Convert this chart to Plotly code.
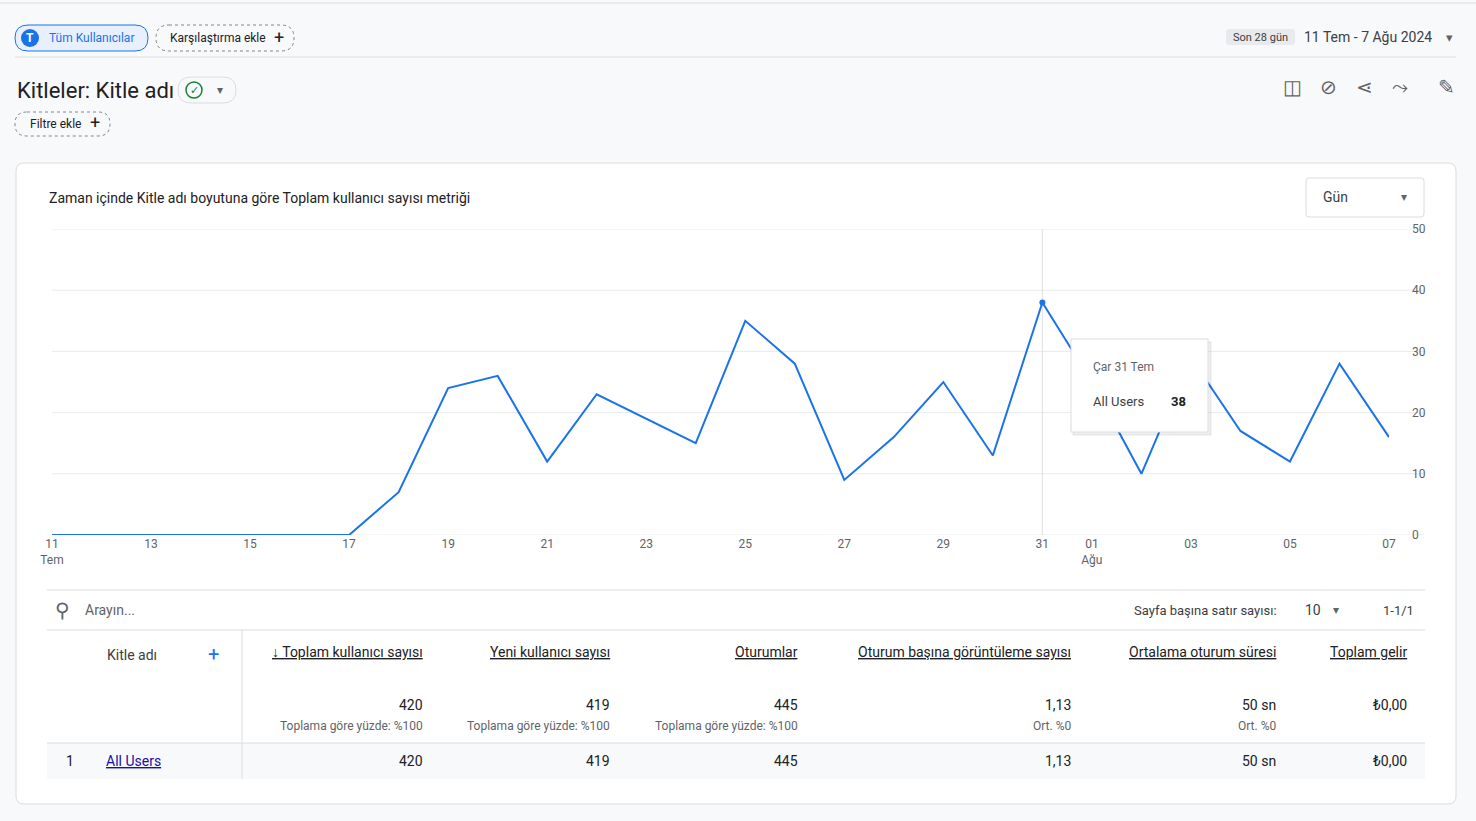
import plotly.graph_objects as go

W, H = 1476, 821
dates = ["2024-07-%02d" % d for d in range(11, 32)] + ["2024-08-%02d" % d for d in range(1, 8)]
users = [0, 0, 0, 0, 0, 0, 0, 7, 24, 26, 12, 23, 19, 15, 35, 28, 9, 16, 25, 13, 38,
         25, 10, 29, 17, 12, 28, 16]
xtick_vals = ["2024-07-11", "2024-07-13", "2024-07-15", "2024-07-17", "2024-07-19", "2024-07-21",
              "2024-07-23", "2024-07-25", "2024-07-27", "2024-07-29", "2024-07-31", "2024-08-01",
              "2024-08-03", "2024-08-05", "2024-08-07"]
xtick_text = ["11<br>Tem", "13", "15", "17", "19", "21", "23", "25", "27", "29", "31", "01<br>Ağu",
              "03", "05", "07"]
ytick_vals = [0, 10, 20, 30, 40, 50]
columns = ["Toplam kullanıcı sayısı", "Yeni kullanıcı sayısı", "Oturumlar",
           "Oturum başına görüntüleme sayısı", "Ortalama oturum süresi", "Toplam gelir"]
totals = ["420", "419", "445", "1,13", "50 sn", "₺0,00"]
subtotals = ["Toplama göre yüzde: %100", "Toplama göre yüzde: %100", "Toplama göre yüzde: %100",
             "Ort. %0", "Ort. %0", ""]
row_vals = ["420", "419", "445", "1,13", "50 sn", "₺0,00"]
col_right = [425, 612, 800, 1073, 1278, 1409]

def px(x): return x / W
def py(y): return 1 - y / H

fig = go.Figure()
fig.add_trace(go.Scatter(x=dates, y=users, mode="lines", line=dict(color="#1a73e8", width=2),
                         hoverinfo="skip"))
fig.add_trace(go.Scatter(x=[dates[20]], y=[users[20]], mode="markers",
                         marker=dict(color="#1a73e8", size=6), hoverinfo="skip"))

shapes, ann = [], []
def rect(x0, y0, x1, y1, line="#dadce0", fill="rgba(0,0,0,0)", dash="solid", w=1, r=0, layer="below"):
    if r:
        path = (f"M {px(x0+r)},{py(y0)} L {px(x1-r)},{py(y0)} Q {px(x1)},{py(y0)} {px(x1)},{py(y0+r)} "
                f"L {px(x1)},{py(y1-r)} Q {px(x1)},{py(y1)} {px(x1-r)},{py(y1)} L {px(x0+r)},{py(y1)} "
                f"Q {px(x0)},{py(y1)} {px(x0)},{py(y1-r)} L {px(x0)},{py(y0+r)} Q {px(x0)},{py(y0)} {px(x0+r)},{py(y0)} Z")
        shapes.append(dict(type="path", path=path, xref="paper", yref="paper",
                           line=dict(color=line, width=w, dash=dash), fillcolor=fill, layer=layer))
    else:
        shapes.append(dict(type="rect", x0=px(x0), x1=px(x1), y0=py(y0), y1=py(y1), xref="paper", yref="paper",
                           line=dict(color=line, width=w, dash=dash), fillcolor=fill, layer=layer))
def hline(y, x0, x1, c="#dadce0"):
    shapes.append(dict(type="line", x0=px(x0), x1=px(x1), y0=py(y), y1=py(y), xref="paper", yref="paper",
                       line=dict(color=c, width=1)))
def vline(x, y0, y1, c="#dadce0"):
    shapes.append(dict(type="line", x0=px(x), x1=px(x), y0=py(y0), y1=py(y1), xref="paper", yref="paper",
                       line=dict(color=c, width=1)))
def text(x, y, t, size=13, color="#202124", xa="left", weight=None, ul=False):
    if ul: t = "<u>" + t + "</u>"
    if weight: t = "<b>" + t + "</b>"
    ann.append(dict(x=px(x), y=py(y), xref="paper", yref="paper", text=t, showarrow=False,
                    xanchor=xa, yanchor="middle", font=dict(size=size, color=color)))

# background
rect(0, 0, W, H, line="rgba(0,0,0,0)", fill="#f8f9fa")
hline(3, 0, W); hline(57, 15, 1456)
# top chips
rect(15, 25, 148, 51, line="#1a73e8", fill="#e8f0fe", r=13)
shapes.append(dict(type="circle", x0=px(21), x1=px(39), y0=py(29), y1=py(47), xref="paper", yref="paper",
                   fillcolor="#1a73e8", line=dict(width=0)))
text(30, 38, "T", 12, "white", "center", weight=True)
text(47, 38, "Tüm Kullanıcılar", 12, "#1a73e8")
rect(156, 25, 294, 51, line="#80868b", dash="dot", r=13)
text(168, 38, "Karşılaştırma ekle", 12, "#202124")
text(279, 37, "+", 18, "#202124", "center")
rect(1226, 29, 1295, 45, line="rgba(0,0,0,0)", fill="#e8eaed", r=3)
text(1260, 37, "Son 28 gün", 11, "#3c4043", "center")
text(1302, 37, "11 Tem - 7 Ağu 2024", 14, "#3c4043")
text(1449, 37, "▾", 13, "#5f6368", "center")
# title
text(15, 90, "Kitleler: Kitle adı", 22, "#202124")
rect(178, 77, 236, 103, line="#dadce0", r=13)
shapes.append(dict(type="circle", x0=px(186), x1=px(202), y0=py(82), y1=py(98), xref="paper", yref="paper",
                   line=dict(color="#188038", width=1.5)))
text(194, 90, "✓", 11, "#188038", "center")
text(220, 90, "▾", 12, "#5f6368", "center")
rect(15, 112, 110, 136, line="#80868b", dash="dot", r=12)
text(28, 124, "Filtre ekle", 12, "#202124")
text(95, 123, "+", 18, "#202124", "center")
for x, ic in zip([1292, 1328, 1364, 1400, 1446], ["◫", "⊘", "⋖", "⤳", "✎"]):
    text(x, 87, ic, 20, "#5f6368", "center")
# card
rect(16, 163, 1456, 804, line="#dadce0", fill="white", r=8)
text(47, 198, "Zaman içinde Kitle adı boyutuna göre Toplam kullanıcı sayısı metriği", 14, "#202124")
rect(1306, 178, 1424, 217, line="#dadce0", fill="white", r=3)
text(1321, 197, "Gün", 14, "#3c4043")
text(1404, 197, "▾", 12, "#5f6368", "center")
# gridlines
for v in ytick_vals:
    shapes.append(dict(type="line", xref="paper", yref="y", x0=px(52), x1=px(1425), y0=v, y1=v,
                       line=dict(color="#e8eaed", width=1), layer="below"))
shapes.append(dict(type="line", xref="x", yref="paper", x0=dates[20], x1=dates[20], y0=py(229), y1=py(535),
                   line=dict(color="#e0e0e0", width=1), layer="below"))
# tooltip (drawn above the line)
rect(1073, 342, 1211, 435, line="rgba(0,0,0,0.08)", fill="rgba(0,0,0,0.06)", layer="above")
rect(1071, 339, 1208, 432, line="#dadce0", fill="white", layer="above")
text(1091, 367, "Çar 31 Tem", 12, "#5f6368")
text(1091, 402, "All Users", 13, "#3c4043")
text(1188, 402, "38", 13, "#202124", "right", weight=True)
# table
hline(590, 47, 1425); hline(630, 47, 1425); hline(743, 47, 1425)
rect(47, 743, 1425, 779, line="rgba(0,0,0,0)", fill="#f8f9fa")
vline(242, 630, 779)
text(62, 610, "⚲", 20, "#5f6368", "center")
text(83, 610, "Arayın...", 14, "#5f6368")
text(1279, 610, "Sayfa başına satır sayısı:", 13, "#3c4043", "right")
text(1303, 610, "10", 14, "#3c4043")
text(1336, 610, "▾", 12, "#5f6368", "center")
text(1416, 610, "1-1/1", 13, "#3c4043", "right")
text(105, 655, "Kitle adı", 14, "#3c4043")
text(213, 654, "+", 20, "#1a73e8", "center")
for i, c in enumerate(columns):
    t = ("↓ " if i == 0 else "") + c
    text(col_right[i], 652, t, 14, "#202124", "right", ul=True)
    text(col_right[i], 705, totals[i], 14, "#202124", "right")
    if subtotals[i]:
        text(col_right[i], 726, subtotals[i], 12, "#5f6368", "right")
    text(col_right[i], 761, row_vals[i], 14, "#202124", "right")
text(64, 761, "1", 14, "#202124")
text(104, 761, "All Users", 14, "#1a0dab", ul=True)

fig.update_layout(
    width=W, height=H, margin=dict(l=0, r=0, t=0, b=0, autoexpand=False),
    paper_bgcolor="#f8f9fa", plot_bgcolor="rgba(0,0,0,0)",
    showlegend=False, shapes=shapes, annotations=ann,
    font=dict(family="Roboto, Arial, sans-serif", color="#5f6368"),
    xaxis=dict(domain=[px(52), px(1389)], range=[dates[0], dates[-1]], tickvals=xtick_vals, ticktext=xtick_text,
               showgrid=False, zeroline=False, showline=False, ticks="", tickfont=dict(size=12, color="#5f6368"),
               anchor="y"),
    yaxis=dict(domain=[py(535), py(229)], range=[0, 50], tickvals=ytick_vals, side="right", showgrid=False,
               zeroline=False, ticks="", tickfont=dict(size=12, color="#5f6368"), ticklabelstandoff=22),
)
fig.write_html("out.html", post_script="document.body.style.margin='0';",
               config={"displayModeBar": False})
